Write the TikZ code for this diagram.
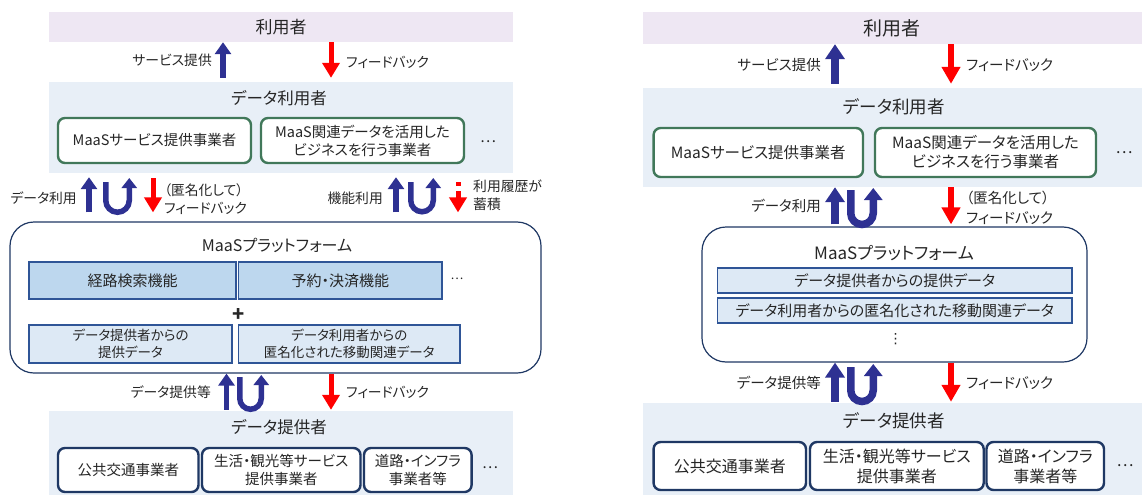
\documentclass[tikz,border=0pt]{standalone}
\usepackage{fontspec}
\setmainfont[RawFeature=+palt]{Noto Sans CJK JP}
\newfontfamily\dejavu{DejaVu Sans}
\usetikzlibrary{arrows.meta}
\definecolor{navyA}{HTML}{2E3192}
\definecolor{redA}{HTML}{FF0000}
\definecolor{usrfill}{HTML}{EEE7F3}
\definecolor{bandfill}{HTML}{E8EFF7}
\definecolor{greenline}{HTML}{41785A}
\definecolor{navyline}{HTML}{1F3864}
\definecolor{funcfill}{HTML}{BDD7EE}
\definecolor{datafill}{HTML}{DDE9F5}
\definecolor{funcline}{HTML}{2F5597}
\definecolor{txt}{HTML}{262626}
\newcommand{\fsz}[2]{\fontsize{#1}{#2}\selectfont}

\begin{document}
\begin{tikzpicture}[x=1pt,y=-1pt,text=txt]

    \tikzset{bandbox/.style={fill=#1,inner sep=0pt},
        gbox/.style={draw=greenline,line width=2.4pt,rounded corners=7pt,fill=white,align=center,inner sep=0pt},
        nbox/.style={draw=navyline,line width=2.4pt,rounded corners=7pt,fill=white,align=center,inner sep=0pt},
        fbox/.style={draw=funcline,line width=1.2pt,fill=funcfill,align=center,inner sep=0pt},
        dbox/.style={draw=funcline,line width=1.2pt,fill=datafill,align=center,inner sep=0pt},
        pbox/.style={draw=navyline,line width=1.2pt,rounded corners=24pt,fill=white,inner sep=0pt},
        lblL/.style={inner sep=0pt,font=\fsz{13.8}{18}},
        lblR/.style={inner sep=0pt,font=\fsz{14.5}{20}},
        upL/.style={draw=navyA,line width=5.5pt,-{Triangle[width=16pt,length=12pt]}},
        uL/.style={draw=navyA,line width=5.5pt,-{Triangle[width=15pt,length=10pt]}},
        redL/.style={draw=redA,line width=5pt,-{Triangle[width=17pt,length=15pt]}},
        upR/.style={draw=navyA,line width=7.5pt,-{Triangle[width=19pt,length=15pt]}},
        uR/.style={draw=navyA,line width=7.5pt,-{Triangle[width=18pt,length=12pt]}},
        redR/.style={draw=redA,line width=5.5pt,-{Triangle[width=18pt,length=17pt]}}}

    \useasboundingbox (0,0) rectangle (1142,495);

    % left: layers
    \node[bandbox=usrfill,minimum width=464pt,minimum height=30pt,font=\fsz{17}{20}] (usrL) at (281,27) {利用者};
    \node[bandbox=bandfill,minimum width=464pt,minimum height=91pt] (duL) at (281,127.5) {};
    \node[font=\fsz{16.5}{20}] (duLt) at (279,98) {データ利用者};
    \node[gbox,minimum width=193pt,minimum height=45pt,font=\fsz{14.5}{18}] (gL1) at (154.5,140.5) {MaaSサービス提供事業者};
    \node[gbox,minimum width=203pt,minimum height=45pt,font=\fsz{14.5}{18}] (gL2) at (362.5,140.5) {MaaS関連データを活用した\\ビジネスを行う事業者};
    \node[font=\fsz{15}{18}] (gLdots) at (488,142) {…};

    \node[pbox,minimum width=531pt,minimum height=151pt] (pL) at (275.5,297.5) {};
    \node[font=\fsz{16}{20}] (pLt) at (277,245) {MaaSプラットフォーム};
    \node[fbox,minimum width=207pt,minimum height=37pt,font=\fsz{15}{18}] (fL1) at (132.5,280.5) {経路検索機能};
    \node[fbox,minimum width=203.5pt,minimum height=37pt,font=\fsz{15}{18}] (fL2) at (340.25,280.5) {予約・決済機能};
    \node[font=\fsz{12}{14}] (fLdots) at (457,279) {…};
    \node[font=\fsz{20}{20}\bfseries] (plusL) at (238.5,315) {+};
    \node[dbox,minimum width=203pt,minimum height=38pt,font=\fsz{13.5}{17}] (dL1) at (130.5,344) {データ提供者からの\\提供データ};
    \node[dbox,minimum width=221.5pt,minimum height=38pt,font=\fsz{13.5}{17}] (dL2) at (349.25,344) {データ利用者からの\\匿名化された移動関連データ};

    \node[bandbox=bandfill,minimum width=464pt,minimum height=84pt] (dpL) at (281,453) {};
    \node[font=\fsz{16.5}{20}] (dpLt) at (279,427) {データ提供者};
    \node[nbox,minimum width=140.5pt,minimum height=44pt,font=\fsz{14.5}{18}] (bL1) at (128.25,470) {公共交通事業者};
    \node[nbox,minimum width=158.5pt,minimum height=44pt,font=\fsz{14.5}{18}] (bL2) at (281.25,470) {生活・観光等サービス\\提供事業者};
    \node[nbox,minimum width=107.6pt,minimum height=44pt,font=\fsz{14.5}{18}] (bL3) at (417.8,470) {道路・インフラ\\事業者等};
    \node[font=\fsz{15}{18}] (bLdots) at (490,468) {…};

    % left: arrows
    \coordinate (cA) at (223,0);
    \coordinate (cB) at (331,0);
    \coordinate (cC) at (89,0);
    \coordinate (cD) at (153,0);
    \coordinate (cE) at (396,0);
    \coordinate (cF) at (458,0);
    \coordinate (cG) at (226.5,0);

    \draw[upL,shorten <=4pt] (duL.north -| cA) -- (usrL.south -| cA);
    \draw[redL,shorten >=4pt] (usrL.south -| cB) -- (duL.north -| cB);
    \node[lblL,anchor=east] (svL) at (212,60) {サービス提供};
    \node[lblL,anchor=west] (fbL1) at (346,62) {フィードバック};

    \draw[upL,shorten <=9pt,shorten >=4pt] (pL.north -| cC) -- (duL.south -| cC);
    \draw[uL] (105.75,182) -- (105.75,200.5) arc[start angle=180,end angle=0,radius=11.75] -- (129.25,178);
    \draw[redL,shorten <=5pt,shorten >=9pt] (duL.south -| cD) -- (pL.north -| cD);
    \node[lblL,anchor=east] (duseL) at (77,198) {データ利用};
    \node[lblL,anchor=west,align=left] (anonL) at (164,199) {（匿名化して）\\フィードバック};

    \draw[upL,shorten <=9pt,shorten >=4pt] (pL.north -| cE) -- (duL.south -| cE);
    \draw[uL] (410.75,182) -- (410.75,200.5) arc[start angle=180,end angle=0,radius=11.25] -- (433.25,178);
    \draw[redL,dash pattern=on 4pt off 5pt on 30pt off 0pt,shorten <=9pt,shorten >=9pt] (duL.south -| cF) -- (pL.north -| cF);
    \node[lblL,anchor=east] (kinoL) at (383,198) {機能利用};
    \node[lblL,anchor=west,align=left] (rirekiL) at (473,195) {利用履歴が\\蓄積};

    \draw[upL,shorten <=1pt] (dpL.north -| cG) -- (pL.south -| cG);
    \draw[uL] (239.75,377) -- (239.75,398.5) arc[start angle=180,end angle=0,radius=10.75] -- (261.25,375);
    \draw[redL,shorten >=1pt] (pL.south -| cB) -- (dpL.north -| cB);
    \node[lblL,anchor=east] (dteiL) at (211,392) {データ提供等};
    \node[lblL,anchor=west] (fbL3) at (346,392) {フィードバック};

    % right: layers
    \node[bandbox=usrfill,minimum width=499.5pt,minimum height=32pt,font=\fsz{19}{22}] (usrR) at (892.25,28) {利用者};
    \node[bandbox=bandfill,minimum width=499.5pt,minimum height=99pt] (duR) at (892.25,137.5) {};
    \node[font=\fsz{17.5}{20}] (duRt) at (894,107) {データ利用者};
    \node[gbox,minimum width=209.4pt,minimum height=49pt,font=\fsz{15.5}{19}] (gR1) at (758.3,152.5) {MaaSサービス提供事業者};
    \node[gbox,minimum width=221pt,minimum height=49pt,font=\fsz{15.5}{19}] (gR2) at (985.5,152.5) {MaaS関連データを活用した\\ビジネスを行う事業者};
    \node[font=\fsz{16}{18}] (gRdots) at (1124,153) {…};

    \node[pbox,minimum width=385pt,minimum height=135pt] (pR) at (894.5,294.5) {};
    \node[font=\fsz{17}{20}] (pRt) at (894,253) {MaaSプラットフォーム};
    \node[dbox,minimum width=354.5pt,minimum height=25pt,font=\fsz{15}{18}] (rR1) at (894.75,280.5) {データ提供者からの提供データ};
    \node[dbox,minimum width=354.5pt,minimum height=25pt,font=\fsz{15}{18}] (rR2) at (894.75,310.5) {データ利用者からの匿名化された移動関連データ};
    \node[font=\fsz{14}{16}\dejavu] (vdR) at (895.5,339) {⋮};

    \node[bandbox=bandfill,minimum width=499.5pt,minimum height=92pt] (dpR) at (892.25,449) {};
    \node[font=\fsz{17.5}{20}] (dpRt) at (894,421) {データ提供者};
    \node[nbox,minimum width=152.4pt,minimum height=48pt,font=\fsz{16}{20}] (bR1) at (729.8,466) {公共交通事業者};
    \node[nbox,minimum width=173.7pt,minimum height=48pt,font=\fsz{16}{20}] (bR2) at (896.85,466) {生活・観光等サービス\\提供事業者};
    \node[nbox,minimum width=117.5pt,minimum height=48pt,font=\fsz{16}{20}] (bR3) at (1045.25,466) {道路・インフラ\\事業者等};
    \node[font=\fsz{16}{18}] (bRdots) at (1125,466) {…};

    % right: arrows
    \coordinate (cH) at (835,0);
    \coordinate (cI) at (951,0);

    \draw[upR,shorten <=4pt] (duR.north -| cH) -- (usrR.south -| cH);
    \draw[redR,shorten >=4pt] (usrR.south -| cI) -- (duR.north -| cI);
    \node[lblR,anchor=east] (svR) at (821,65) {サービス提供};
    \node[lblR,anchor=west] (fbR1) at (966,65) {フィードバック};

    \draw[upR,shorten <=2pt] (pR.north -| cH) -- (duR.south -| cH);
    \draw[uR] (850.75,190) -- (850.75,213.25) arc[start angle=180,end angle=0,radius=11.25] -- (873.25,188);
    \draw[redR,shorten >=2pt] (duR.south -| cI) -- (pR.north -| cI);
    \node[lblR,anchor=east] (duseR) at (821,206) {データ利用};
    \node[lblR,anchor=west,align=left] (anonR) at (966,208) {（匿名化して）\\フィードバック};

    \draw[upR,shorten <=1pt] (dpR.north -| cH) -- (pR.south -| cH);
    \draw[uR] (850.75,367) -- (850.75,390.25) arc[start angle=180,end angle=0,radius=11.25] -- (873.25,364);
    \draw[redR,shorten >=1pt] (pR.south -| cI) -- (dpR.north -| cI);
    \node[lblR,anchor=east] (dteiR) at (821,383) {データ提供等};
    \node[lblR,anchor=west] (fbR3) at (966,383) {フィードバック};

\end{tikzpicture}
\end{document}
